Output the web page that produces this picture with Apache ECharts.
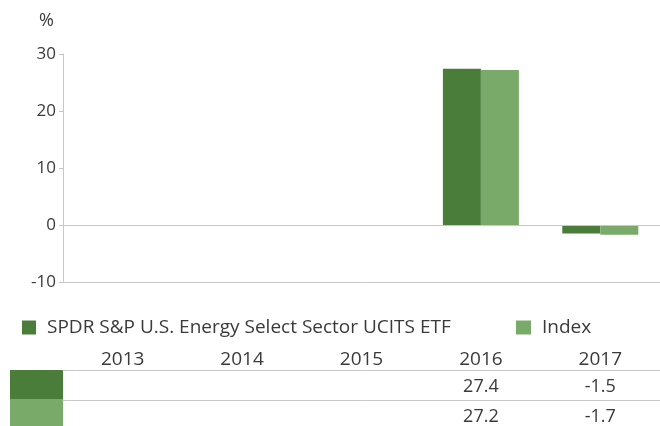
<!DOCTYPE html>
<html><head><meta charset="utf-8">
<script src="https://cdn.jsdelivr.net/npm/echarts@6/dist/echarts.min.js"></script>
<style>html,body{margin:0;padding:0;background:#fff}#c{width:660px;height:426px}</style>
</head><body><div id="c"></div>
<script>
var years = ['2013','2014','2015','2016','2017'];
var fundName = 'SPDR S&P U.S. Energy Select Sector UCITS ETF';
var indexName = 'Index';
var fundValues = [null, null, null, 27.4, -1.5];
var indexValues = [null, null, null, 27.2, -1.7];
var yTicks = [-10, 0, 10, 20, 30];

var DARK = '#4a7c3a', LIGHT = '#7aaa6a', GRID = '#c8c8c8', TXT = '#3a3a3a';
var FONT = 'Open Sans';
function fmt(v){ return v == null ? '' : v.toFixed(1); }

var chart = echarts.init(document.getElementById('c'), null, {renderer:'canvas'});
var hidden = {axisLabel:{show:false}, axisTick:{show:false}, splitLine:{show:false}};
chart.setOption({
  animation:false,
  textStyle:{fontFamily:FONT},
  grid:{left:63, right:-3, top:54, bottom:144, containLabel:false},
  legend:[
    {data:[fundName], left:22, top:318, padding:0, icon:'rect', itemWidth:14, itemHeight:14,
     textStyle:{fontSize:19, color:TXT, fontFamily:FONT, padding:[0,0,0,6]}},
    {data:[indexName], left:516, top:318, padding:0, icon:'rect', itemWidth:15, itemHeight:14,
     textStyle:{fontSize:19, color:TXT, fontFamily:FONT, padding:[0,0,0,6]}}
  ],
  xAxis:[
    Object.assign({type:'category', data:years, position:'bottom', axisLine:{onZero:false, lineStyle:{color:GRID}}}, hidden),
    Object.assign({type:'category', data:years, position:'top', axisLine:{lineStyle:{color:GRID}}}, hidden),
    {type:'category', data:years, position:'bottom', offset:68, axisLine:{show:false}, axisTick:{show:false},
     axisLabel:{show:true, margin:0, fontSize:19, color:TXT, fontFamily:FONT}},
    {type:'category', data:fundValues.map(fmt), position:'bottom', offset:88, axisLine:{show:true, lineStyle:{color:GRID}}, axisTick:{show:false},
     axisLabel:{show:true, margin:8, fontSize:18, color:TXT, fontFamily:FONT}},
    {type:'category', data:indexValues.map(fmt), position:'bottom', offset:118, axisLine:{show:true, lineStyle:{color:GRID}}, axisTick:{show:false},
     axisLabel:{show:true, margin:8, fontSize:18, color:TXT, fontFamily:FONT}}
  ],
  yAxis:{type:'value', min:yTicks[0], max:yTicks[yTicks.length-1], interval:10,
    axisLine:{show:true, lineStyle:{color:GRID}},
    axisTick:{show:true, length:4, lineStyle:{color:GRID}},
    axisLabel:{fontSize:17, color:TXT, margin:7, fontFamily:FONT},
    splitLine:{show:false}},
  series:[
    {name:fundName, type:'bar', data:fundValues, barWidth:38, barGap:'0%', itemStyle:{color:DARK},
     markLine:{silent:true, symbol:'none', label:{show:false}, lineStyle:{color:GRID, type:'solid', width:1}, data:[{yAxis:0}]}},
    {name:indexName, type:'bar', data:indexValues, barWidth:38, barGap:'0%', itemStyle:{color:LIGHT}}
  ],
  graphic:[
    {type:'text', left:39, top:12, style:{text:'%', fontSize:18, fill:TXT, fontFamily:FONT}},
    {type:'rect', left:10, top:370, shape:{width:53, height:29}, style:{fill:DARK}},
    {type:'rect', left:10, top:399, shape:{width:53, height:27}, style:{fill:LIGHT}}
  ]
});
</script></body></html>
